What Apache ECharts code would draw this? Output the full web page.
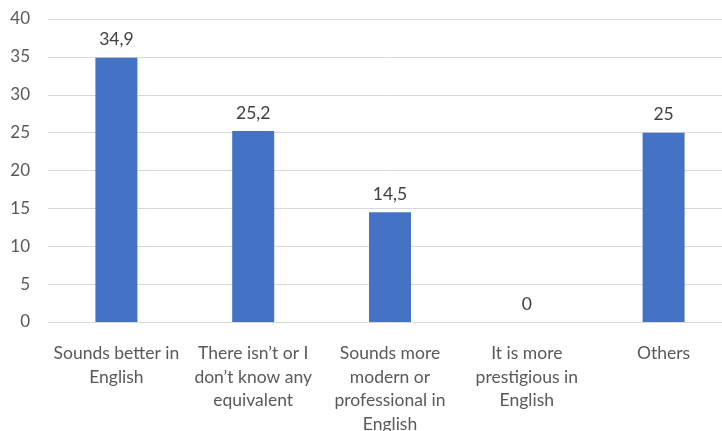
<!DOCTYPE html>
<html><head><meta charset="utf-8">
<script src="https://cdn.jsdelivr.net/npm/echarts@6/dist/echarts.min.js"></script>
<style>html,body{margin:0;padding:0;background:#fff}#c{width:722px;height:431px}</style>
</head><body><div id="c"></div>
<script>
const categories = [
  "Sounds better in\nEnglish",
  "There isn\u2019t or I\ndon\u2019t know any\nequivalent",
  "Sounds more\nmodern or\nprofessional in\nEnglish",
  "It is more\nprestigious in\nEnglish",
  "Others"
];
const values = [34.9, 25.2, 14.5, 0, 25];
const yTicks = { min: 0, max: 40, interval: 5 };

const chart = echarts.init(document.getElementById('c'), null, {renderer: 'canvas'});
const font = 'Lato, "Open Sans", sans-serif';
chart.setOption({
  animation: false,
  grid: { left: 48, right: -10, top: 19, bottom: 109, containLabel: false, outerBoundsMode: 'none' },
  xAxis: {
    type: 'category', data: categories,
    axisLine: { show: true, lineStyle: { color: '#D9D9D9', width: 1 } },
    axisTick: { show: false },
    axisLabel: { interval: 0, color: '#595959', fontFamily: font, fontSize: 17.5, lineHeight: 23.5, margin: 20 }
  },
  yAxis: {
    type: 'value', min: yTicks.min, max: yTicks.max, interval: yTicks.interval,
    axisLine: { show: false }, axisTick: { show: false },
    splitLine: { lineStyle: { color: '#D9D9D9', width: 1 } },
    axisLabel: { color: '#595959', fontFamily: font, fontSize: 17, margin: 18,
      formatter: v => String(v) }
  },
  series: [{
    type: 'bar', data: values, barWidth: 42,
    itemStyle: { color: '#4472C4' },
    label: { show: true, position: 'top', distance: 9, color: '#404040', fontFamily: font, fontSize: 17.5,
      formatter: p => String(p.value).replace('.', ',') }
  }]
});
</script></body></html>
